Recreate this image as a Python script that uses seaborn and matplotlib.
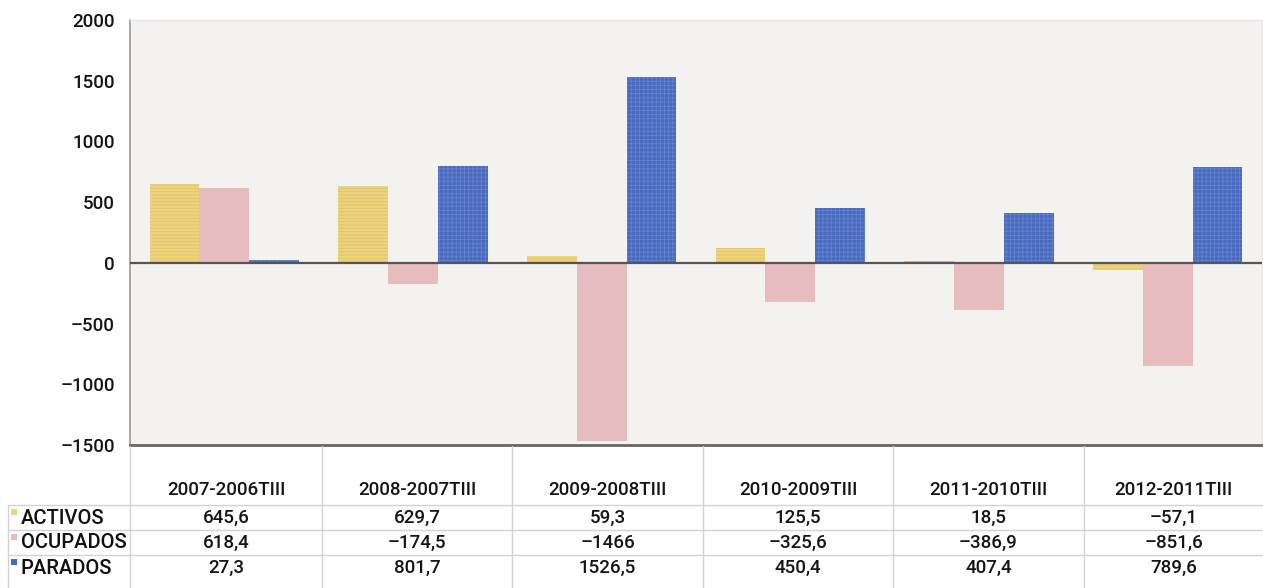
import matplotlib
matplotlib.use("Agg")
import matplotlib.pyplot as plt
from matplotlib.lines import Line2D
from matplotlib.patches import Rectangle
import seaborn as sns
import pandas as pd

periods = ["2007-2006TIII", "2008-2007TIII", "2009-2008TIII",
           "2010-2009TIII", "2011-2010TIII", "2012-2011TIII"]
series = ["ACTIVOS", "OCUPADOS", "PARADOS"]
activos = [645.6, 629.7, 59.3, 125.5, 18.5, -57.1]
ocupados = [618.4, -174.5, -1466, -325.6, -386.9, -851.6]
parados = [27.3, 801.7, 1526.5, 450.4, 407.4, 789.6]
colors = ["#edd380", "#e6bcbe", "#4869bd"]
textures = [("#e2c466", "-----"), (None, None), ("#6383cf", "++++")]
yticks = [-1500, -1000, -500, 0, 500, 1000, 1500, 2000]

values = [activos, ocupados, parados]
df = pd.DataFrame({
    "periodo": [p for _ in series for p in periods],
    "serie": [s for s in series for _ in periods],
    "valor": [v for vals in values for v in vals],
})

W, H = 1263, 588
sns.set_theme(style="white")
plt.rcParams["font.family"] = ["Roboto", "DejaVu Sans"]
plt.rcParams["hatch.linewidth"] = 0.6

fig = plt.figure(figsize=(W / 100, H / 100), dpi=100)
fig.patch.set_facecolor("white")


def fx(x):
    return x / W


def fy(y):
    return 1 - y / H


ax = fig.add_axes([fx(130), fy(445), fx(1262) - fx(130), fy(20) - fy(445)])
ax.set_facecolor("#f3f2ef")

sns.barplot(data=df, x="periodo", y="valor", hue="serie", order=periods,
            hue_order=series, palette=colors, width=0.79, saturation=1,
            legend=False, ax=ax)
for k, container in enumerate(ax.containers):
    ec, hatch = textures[k]
    for p in container:
        p.set_linewidth(0)
        if hatch:
            p.set_edgecolor(ec)
            p.set_hatch(hatch)

ax.set_ylim(-1500, 2000)
ax.set_xlim(-0.5, len(periods) - 0.5)
ax.set_yticks(yticks)
ax.set_yticklabels([str(t).replace("-", "\u2013") for t in yticks],
                   fontsize=13.5, color="#141414", fontweight="medium")
ax.tick_params(axis="y", length=0, pad=11)
ax.set_xticks([])
ax.set_xlabel("")
ax.set_ylabel("")
ax.axhline(0, color="#555555", lw=1.6, zorder=3)

for side in ["top", "right"]:
    ax.spines[side].set_color("#e4e4e4")
    ax.spines[side].set_linewidth(1)
ax.spines["left"].set_color("#9a9a9a")
ax.spines["left"].set_linewidth(1.2)
ax.spines["bottom"].set_color("#666666")
ax.spines["bottom"].set_linewidth(2)

# data table below the axis
grid_c = "#d2d2d2"
col_edges = [130, 322, 512, 703, 893, 1084, 1263]
row_lines = [505, 530, 555]
row_centers = [518, 543, 568]

for x in col_edges[:-1]:
    fig.add_artist(Line2D([fx(x), fx(x)], [fy(446), fy(588)],
                          color=grid_c, lw=1))
fig.add_artist(Line2D([fx(8), fx(8)], [fy(505), fy(588)], color=grid_c, lw=1))
for y in row_lines:
    fig.add_artist(Line2D([fx(8), fx(1263)], [fy(y), fy(y)], color=grid_c, lw=1))

for i, p in enumerate(periods):
    cx = (col_edges[i] + col_edges[i + 1]) / 2
    fig.text(fx(cx), fy(490), p, ha="center", va="center",
             fontsize=13.5, color="#141414", fontweight="medium")

for r, (name, vals, c) in enumerate(zip(series, values, colors)):
    yc = row_centers[r]
    fig.add_artist(Rectangle((fx(11), fy(yc - 3)), fx(6), fy(0) - fy(6),
                             color=c, lw=0))
    fig.text(fx(21), fy(yc), name, ha="left", va="center",
             fontsize=14.5, color="#111111", fontweight="medium")
    for i, v in enumerate(vals):
        cx = (col_edges[i] + col_edges[i + 1]) / 2
        txt = f"{v:g}".replace(".", ",").replace("-", "\u2013")
        fig.text(fx(cx), fy(yc), txt, ha="center", va="center",
                 fontsize=13.5, color="#141414", fontweight="medium")

fig.savefig("out.png", dpi=100, facecolor="white")
